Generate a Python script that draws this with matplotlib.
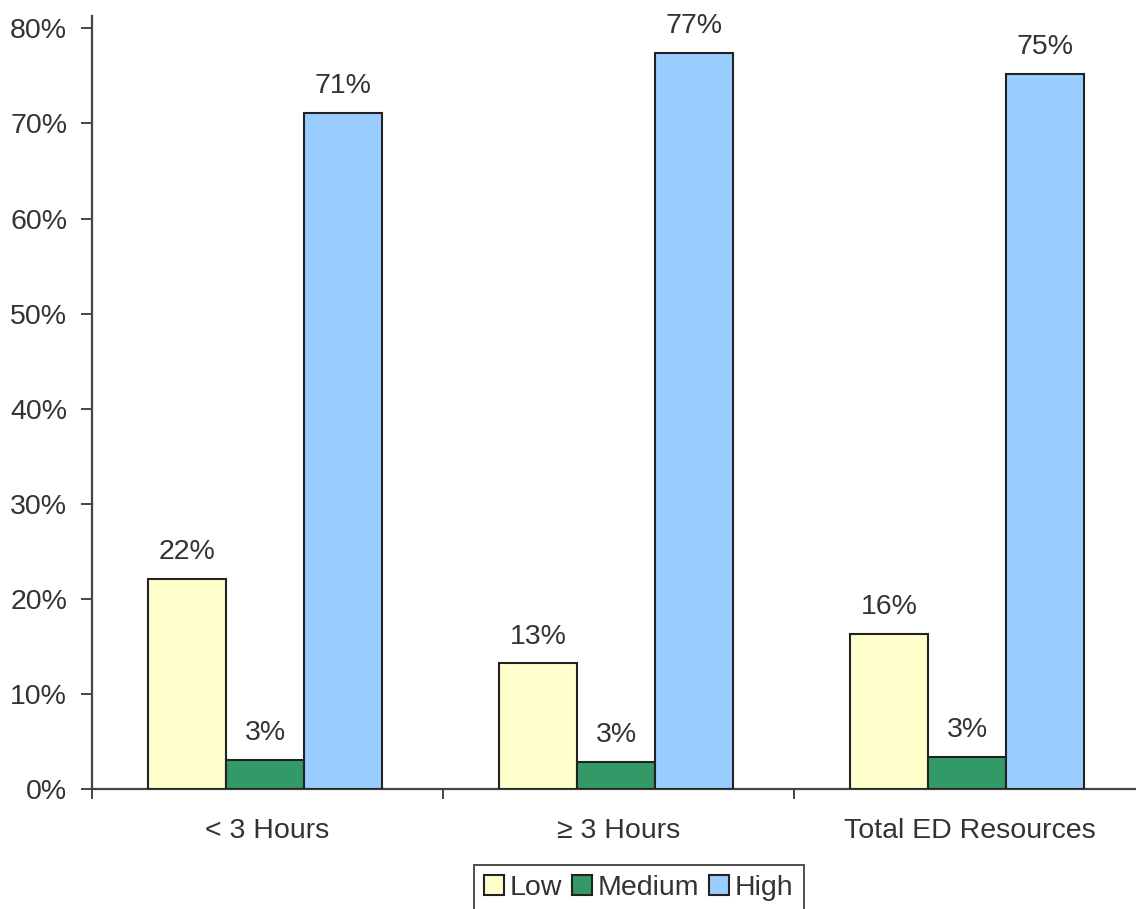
import matplotlib
matplotlib.use("Agg")
import matplotlib.pyplot as plt
from matplotlib.patches import Patch
from matplotlib.ticker import FixedLocator
import numpy as np

categories = ["< 3 Hours", "\u2265 3 Hours", "Total ED Resources"]
series_names = ["Low", "Medium", "High"]
low = [22.1, 13.2, 16.3]
medium = [3.1, 2.8, 3.4]
high = [71.1, 77.4, 75.2]
series = [low, medium, high]
colors = ["#FFFFCC", "#339966", "#99CCFF"]
y_ticks = [0, 10, 20, 30, 40, 50, 60, 70, 80]

plt.rcParams["font.family"] = ["Liberation Sans", "DejaVu Sans"]
text_color = "#333333"
fs = 20.5

fig = plt.figure(figsize=(11.36, 9.09), dpi=100)
ax = fig.add_axes([92 / 1136, 120 / 909, 1053 / 1136, 773 / 909])

x = np.arange(len(categories))
width = 0.222
for i, (vals, col, name) in enumerate(zip(series, colors, series_names)):
    pos = x + (i - 1) * width - 0.007
    bars = ax.bar(pos, vals, width=width, color=col, edgecolor="#222222",
                  linewidth=1.5, label=name, zorder=3)
    for b, v in zip(bars, vals):
        ax.annotate(f"{v:.0f}%", (b.get_x() + b.get_width() / 2, v),
                    xytext=(0, 10), textcoords="offset points",
                    ha="center", va="bottom", fontsize=fs, color=text_color)

ax.set_xlim(-0.5, 2.5)
ax.set_ylim(0, 81.3)
ax.set_yticks(y_ticks)
ax.set_yticklabels([f"{t}%" for t in y_ticks])
ax.set_xticks(x)
ax.set_xticklabels(categories)
ax.xaxis.set_minor_locator(FixedLocator([-0.5, 0.5, 1.5, 2.5]))

for s in ["top", "right"]:
    ax.spines[s].set_visible(False)
for s in ["left", "bottom"]:
    ax.spines[s].set_color("#444444")
    ax.spines[s].set_linewidth(1.6)

ax.tick_params(axis="y", direction="out", length=8, width=1.4, color="#444444",
               pad=10, labelsize=fs, labelcolor=text_color)
ax.tick_params(axis="x", which="major", length=0, pad=21, labelsize=fs,
               labelcolor=text_color)
ax.tick_params(axis="x", which="minor", direction="out", length=7, width=1.4,
               color="#444444")

handles = [Patch(facecolor=c, edgecolor="#222222", linewidth=1.5, label=n)
           for c, n in zip(colors, series_names)]
leg = fig.legend(handles=handles, loc="center", bbox_to_anchor=(639 / 1136, 1 - 888 / 909),
                 ncol=3, fontsize=fs, frameon=True, fancybox=False,
                 handlelength=0.7, handleheight=0.7, handletextpad=0.2,
                 columnspacing=0.35, borderpad=0.35, borderaxespad=0,
                 labelcolor=text_color)
leg.get_frame().set_edgecolor("#222222")
leg.get_frame().set_linewidth(1.4)

fig.savefig("out.png", dpi=100, facecolor="white")
